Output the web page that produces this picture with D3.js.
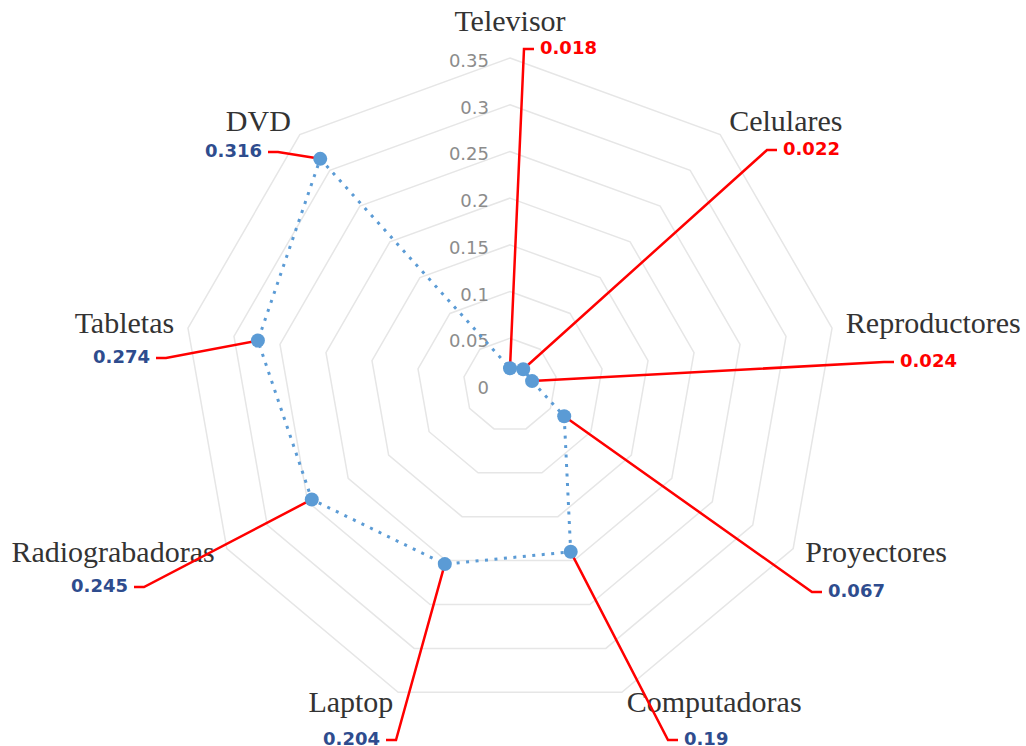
<!DOCTYPE html>
<html>
<head>
<meta charset="utf-8">
<script src="https://cdn.jsdelivr.net/npm/d3@7"></script>
<style>
  body { margin: 0; background: #fff; }
</style>
</head>
<body>
<script>
// data
var categories = ["Televisor", "Celulares", "Reproductores", "Proyectores", "Computadoras",
                  "Laptop", "Radiograbadoras", "Tabletas", "DVD"];
var values = [0.018, 0.022, 0.024, 0.067, 0.19, 0.204, 0.245, 0.274, 0.316];
var ticks = [0, 0.05, 0.1, 0.15, 0.2, 0.25, 0.3, 0.35];
var tickLabels = ["0", "0.05", "0.1", "0.15", "0.2", "0.25", "0.3", "0.35"];
var labelColors = ["#ff0000", "#ff0000", "#ff0000", "#2e4c8e", "#2e4c8e",
                   "#2e4c8e", "#2e4c8e", "#2e4c8e", "#2e4c8e"];

// layout of the hand-placed value labels (x, y, anchor)
var valueLabelPos = [[540, 49, "start"], [783, 150, "start"], [900, 362, "start"],
                     [828, 592, "start"], [684, 740, "start"], [380, 740, "end"],
                     [128, 587, "end"], [150, 358, "end"], [262, 152, "end"]];

var width = 1026, height = 746;
var cx = 510, cy = 385, R = 327;

var svg = d3.select("body").append("svg")
    .attr("width", width)
    .attr("height", height);

var r = d3.scaleLinear().domain([0, 0.35]).range([0, R]);
var angle = d3.scaleLinear().domain([0, categories.length]).range([0, 2 * Math.PI]);

function px(i, v) { return cx + r(v) * Math.sin(angle(i)); }
function py(i, v) { return cy - r(v) * Math.cos(angle(i)); }

// grid rings
var ring = d3.line();
ticks.slice(1).forEach(function(t) {
  var pts = categories.map(function(c, i) { return [px(i, t), py(i, t)]; });
  svg.append("path")
    .attr("d", ring(pts) + "Z")
    .attr("fill", "none")
    .attr("stroke", "#e6e6e6")
    .attr("stroke-width", 1.5);
});

// tick labels
svg.selectAll(".tick").data(ticks).enter().append("text")
  .attr("x", cx - 21)
  .attr("y", function(d) { return cy - r(d) + 4; })
  .attr("text-anchor", "end")
  .attr("dominant-baseline", "middle")
  .attr("font-family", "DejaVu Sans")
  .attr("font-size", 18)
  .attr("fill", "#8c8c8c")
  .text(function(d, i) { return tickLabels[i]; });

// category labels
svg.selectAll(".cat").data(categories).enter().append("text")
  .attr("x", function(d, i) {
    var off = Math.abs(Math.cos(angle(i))) > 0.95 ? 0 : 14;
    return cx + (R + off) * Math.sin(angle(i));
  })
  .attr("y", function(d, i) {
    if (Math.abs(Math.cos(angle(i))) > 0.95) return cy - R - 34;
    return cy - (R + 14) * Math.cos(angle(i));
  })
  .attr("text-anchor", function(d, i) {
    var s = Math.sin(angle(i));
    return s > 0.1 ? "start" : (s < -0.1 ? "end" : "middle");
  })
  .attr("dominant-baseline", "middle")
  .attr("font-family", "Liberation Serif")
  .attr("font-size", 30)
  .attr("fill", "#333333")
  .text(function(d) { return d; });

// series line (dotted)
var linePts = values.map(function(v, i) { return [px(i, v), py(i, v)]; });
svg.append("path")
  .attr("d", d3.line()(linePts) + "Z")
  .attr("fill", "none")
  .attr("stroke", "#5b9bd5")
  .attr("stroke-width", 3)
  .attr("stroke-dasharray", "3,6.5");

// leader lines
values.forEach(function(v, i) {
  var p = valueLabelPos[i];
  var dir = p[2] === "start" ? -1 : 1;
  var pts = [[px(i, v), py(i, v)], [p[0] + dir * 16, p[1]], [p[0] + dir * 6, p[1]]];
  svg.append("path")
    .attr("d", d3.line()(pts))
    .attr("fill", "none")
    .attr("stroke", "#ff0000")
    .attr("stroke-width", 2.5);
});

// markers
svg.selectAll(".dot").data(values).enter().append("circle")
  .attr("cx", function(d, i) { return px(i, d); })
  .attr("cy", function(d, i) { return py(i, d); })
  .attr("r", 7)
  .attr("fill", "#5b9bd5");

// value labels
svg.selectAll(".val").data(values).enter().append("text")
  .attr("x", function(d, i) { return valueLabelPos[i][0]; })
  .attr("y", function(d, i) { return valueLabelPos[i][1]; })
  .attr("text-anchor", function(d, i) { return valueLabelPos[i][2]; })
  .attr("dominant-baseline", "middle")
  .attr("font-family", "DejaVu Sans")
  .attr("font-weight", "bold")
  .attr("font-size", 18)
  .attr("fill", function(d, i) { return labelColors[i]; })
  .text(function(d) { return d; });
</script>
</body>
</html>
